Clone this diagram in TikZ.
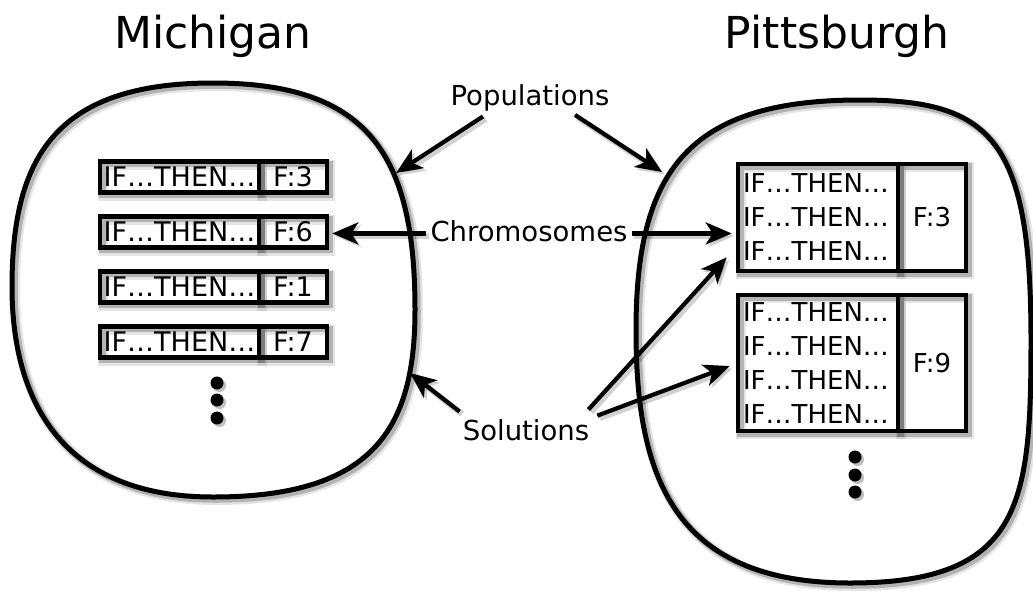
\documentclass[tikz,border=0pt]{standalone}
\usepackage{fontspec}
\setmainfont{DejaVu Sans}
\usetikzlibrary{arrows.meta}
\begin{document}
\begin{tikzpicture}[x=1pt,y=-1pt,
  shd/.style={preaction={draw=black,opacity=.10,line width=10pt,transform canvas={shift={(3pt,-3pt)}}},
              preaction={draw=black,opacity=.22,line width=6.5pt,transform canvas={shift={(2.5pt,-2.5pt)}}}},
  blob/.style={draw=black,line width=5pt,shd},
  rb/.style={draw=black,line width=4.5pt,inner sep=0pt,shd,font=\fontsize{27}{34}\selectfont},
  rbm/.style={draw=black,line width=4.5pt,inner xsep=5pt,inner ysep=0pt,shd,align=left,text width=150pt,
              font=\fontsize{26}{34}\selectfont},
  lbl/.style={inner sep=4pt,anchor=base,font=\fontsize{27.5}{33}\selectfont},
  ttl/.style={inner sep=0pt,anchor=base,font=\fontsize{44}{50}\selectfont},
  arr/.style={line width=4.2pt,-{Stealth[length=26pt,width=22pt,inset=7pt]},
              preaction={draw=black,opacity=.18,line width=6pt,transform canvas={shift={(2.5pt,-2.5pt)}}}},
  dot/.style={circle,fill=black,inner sep=0pt,minimum size=13pt,
              preaction={fill=black,opacity=.25,transform canvas={shift={(2.5pt,-2.5pt)}}}}
]
\useasboundingbox (0,0) rectangle (1033,592);

% titles
\node[ttl] (mich) at (213,48) {Michigan};
\node[ttl] (pitt) at (837,48) {Pittsburgh};

% blobs
\draw[blob] (213,83) .. controls (54,83) and (12,159) .. (12,287)
  .. controls (12,388) and (52,497) .. (213,497)
  .. controls (373,497) and (415,429) .. (415,310)
  .. controls (415,154) and (368,83) .. (213,83) -- cycle;
\draw[blob] (860,100) .. controls (689,100) and (636,170) .. (636,330)
  .. controls (636,473) and (671,583) .. (850,583)
  .. controls (1022,583) and (1031,504) .. (1031,340)
  .. controls (1031,140) and (992,100) .. (860,100) -- cycle;

% left chromosomes
\node[rb,minimum width=159pt,minimum height=31pt] (r1) at (179.5,177) {IF…THEN…};
\node[rb,minimum width=68pt,minimum height=31pt] (f1) at (293,177) {F:3};
\node[rb,minimum width=159pt,minimum height=31pt] (r2) at (179.5,232) {IF…THEN…};
\node[rb,minimum width=68pt,minimum height=31pt] (f2) at (293,232) {F:6};
\node[rb,minimum width=159pt,minimum height=31pt] (r3) at (179.5,287) {IF…THEN…};
\node[rb,minimum width=68pt,minimum height=31pt] (f3) at (293,287) {F:1};
\node[rb,minimum width=159pt,minimum height=31pt] (r4) at (179.5,342) {IF…THEN…};
\node[rb,minimum width=68pt,minimum height=31pt] (f4) at (293,342) {F:7};
\node[dot] (ld1) at (217,383) {};
\node[dot] (ld2) at (217,400) {};
\node[dot] (ld3) at (217,418) {};

% right chromosomes
\node[rbm,minimum height=107pt] (rr1) at (818,217.5) {IF…THEN…\\IF…THEN…\\IF…THEN…};
\node[rb,minimum width=68pt,minimum height=107pt,font=\fontsize{26}{34}\selectfont] (rf1) at (932,217.5) {F:3};
\node[rbm,minimum height=136pt] (rr2) at (818,363) {IF…THEN…\\IF…THEN…\\IF…THEN…\\IF…THEN…};
\node[rb,minimum width=68pt,minimum height=136pt,font=\fontsize{26}{34}\selectfont] (rf2) at (932,363) {F:9};
\node[dot] (rd1) at (855,457) {};
\node[dot] (rd2) at (855,475) {};
\node[dot] (rd3) at (855,492) {};

% labels
\node[lbl] (pop) at (530,105) {Populations};
\node[lbl] (chr) at (529,241.7) {Chromosomes};
\node[lbl] (sol) at (526,440.7) {Solutions};

% blob targets
\coordinate (tPL) at (396,173);
\coordinate (tPR) at (662,172);
\coordinate (tSL) at (410,373);

% arrows
\draw[arr] ([xshift=-47pt,yshift=-1.5pt]pop.south) -- (tPL);
\draw[arr] ([xshift=45pt]pop.south) -- (tPR);
\draw[arr,shorten >=3pt] ([yshift=-2pt]chr.west) -- ([yshift=-2pt]chr.west -| f2.east);
\draw[arr,shorten >=4pt] ([yshift=-2pt]chr.east) -- ([yshift=-2pt]chr.east -| rr1.west);
\draw[arr] ([xshift=1pt,yshift=4pt]sol.north west) -- (tSL);
\draw[arr] ([xshift=-5pt,yshift=6pt]sol.north east) -- ([xshift=-9pt,yshift=16pt]rr1.south west);
\draw[arr] ([xshift=4pt,yshift=0pt]sol.north east) -- ([xshift=-6pt,yshift=-3pt]rr2.west);
\end{tikzpicture}
\end{document}
